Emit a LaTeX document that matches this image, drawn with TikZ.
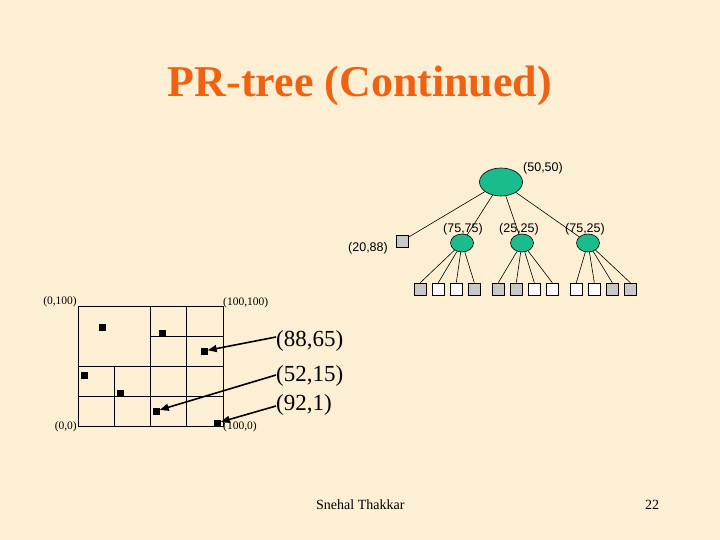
\documentclass[tikz,border=0pt]{standalone}
\usepackage{fontspec}
\setmainfont{Liberation Serif}
\newfontfamily\sansf{Liberation Sans}
\usetikzlibrary{shapes.geometric,arrows.meta}
\definecolor{bgc}{RGB}{252,239,212}
\definecolor{titlec}{RGB}{240,98,18}
\definecolor{teal}{RGB}{26,188,140}
\definecolor{leafgray}{RGB}{200,200,200}
\tikzset{
  rootnode/.style={ellipse,draw=black,line width=0.6pt,fill=teal,minimum width=43pt,minimum height=28pt,inner sep=0pt},
  childnode/.style={ellipse,draw=black,line width=0.6pt,fill=teal,minimum width=23pt,minimum height=18pt,inner sep=0pt},
  leafg/.style={rectangle,draw=black,line width=0.6pt,fill=leafgray,minimum size=12pt,inner sep=0pt},
  leafw/.style={rectangle,draw=black,line width=0.6pt,fill=white,minimum size=12pt,inner sep=0pt},
  treeedge/.style={line width=0.6pt},
  tlabel/.style={font=\sansf\fontsize{12.5}{14}\selectfont,inner sep=0pt},
  glabel/.style={font=\fontsize{11.5}{13}\selectfont,inner sep=0pt},
  biglabel/.style={font=\fontsize{23}{26}\selectfont,inner sep=0pt,anchor=west},
  pt/.style={rectangle,fill=black,minimum size=7pt,inner sep=0pt},
  gridline/.style={line width=0.9pt},
  arr/.style={line width=1.6pt,-{Triangle[length=9pt,width=7pt]}},
}
\begin{document}
\begin{tikzpicture}[x=1pt,y=-1pt]
\fill[bgc] (0,0) rectangle (720,540);
\useasboundingbox (0,0) rectangle (720,540);
% title
\node[anchor=base,text=titlec,font=\bfseries\fontsize{44}{50}\selectfont,inner sep=0pt] (title) at (360,97) {PR-tree (Continued)};
% tree
\node[rootnode] (root) at (501,182) {};
\node[childnode] (c1) at (462,243) {};
\node[childnode] (c2) at (522,243) {};
\node[childnode] (c3) at (588,243) {};
\node[leafg] (q) at (402,241) {};
\node[tlabel] (lroot) at (543,168) {(50,50)};
\node[tlabel] (lc1) at (463,229) {(75,75)};
\node[tlabel] (lc2) at (519,229) {(25,25)};
\node[tlabel] (lc3) at (585,229) {(75,25)};
\node[tlabel] (lq) at (368,248) {(20,88)};
\node[leafg] (l1) at (420.3,289) {};
\node[leafw] (l2) at (438.3,289) {};
\node[leafw] (l3) at (456.3,289) {};
\node[leafg] (l4) at (474.3,289) {};
\node[leafg] (l5) at (498.3,289) {};
\node[leafg] (l6) at (516.3,289) {};
\node[leafw] (l7) at (534.3,289) {};
\node[leafw] (l8) at (552.3,289) {};
\node[leafw] (l9) at (576.3,289) {};
\node[leafw] (l10) at (594.3,289) {};
\node[leafg] (l11) at (612.3,289) {};
\node[leafg] (l12) at (630.3,289) {};
\draw[treeedge] (root) -- (q);
\draw[treeedge] (root) -- (c1);
\draw[treeedge] (root) -- (c2);
\draw[treeedge] (root) -- (c3);
\foreach \l in {l1,l2,l3,l4} \draw[treeedge] (c1) -- (\l.north);
\foreach \l in {l5,l6,l7,l8} \draw[treeedge] (c2) -- (\l.north);
\foreach \l in {l9,l10,l11,l12} \draw[treeedge] (c3) -- (\l.north);
% grid
\draw[gridline] (78,306) rectangle (223,426);
\draw[gridline] (150,306) -- (150,426);
\draw[gridline] (186,306) -- (186,426);
\draw[gridline] (78,366) -- (223,366);
\draw[gridline] (78,396) -- (223,396);
\draw[gridline] (114,366) -- (114,426);
\draw[gridline] (150,336) -- (223,336);
\node[glabel,anchor=east] (g1) at (77,302) {(0,100)};
\node[glabel,anchor=west] (g2) at (223,303) {(100,100)};
\node[glabel,anchor=east] (g3) at (77,427) {(0,0)};
\node[glabel,anchor=west] (g4) at (223,427) {(100,0)};
\node[pt] (p1) at (102,327) {};
\node[pt] (p2) at (162,333) {};
\node[pt] (p3) at (204,351) {};
\node[pt] (p4) at (84,375) {};
\node[pt] (p5) at (120,393) {};
\node[pt] (p6) at (156,411) {};
\node[pt] (p7) at (217,423) {};
\node[biglabel] (t1) at (276,341) {(88,65)};
\node[biglabel] (t2) at (276,376) {(52,15)};
\node[biglabel] (t3) at (276,405) {(92,1)};
\draw[arr] ([yshift=4pt]t1.west) -- (p3);
\draw[arr] ([yshift=1pt]t2.west) -- (p6);
\draw[arr] ([yshift=-1pt]t3.west) -- (p7);
% footer
\node[anchor=base west,font=\fontsize{14}{16}\selectfont,inner sep=0pt] (foot) at (316,509) {Snehal Thakkar};
\node[anchor=base,font=\fontsize{14}{16}\selectfont,inner sep=0pt] (num) at (652,509) {22};
\end{tikzpicture}
\end{document}
